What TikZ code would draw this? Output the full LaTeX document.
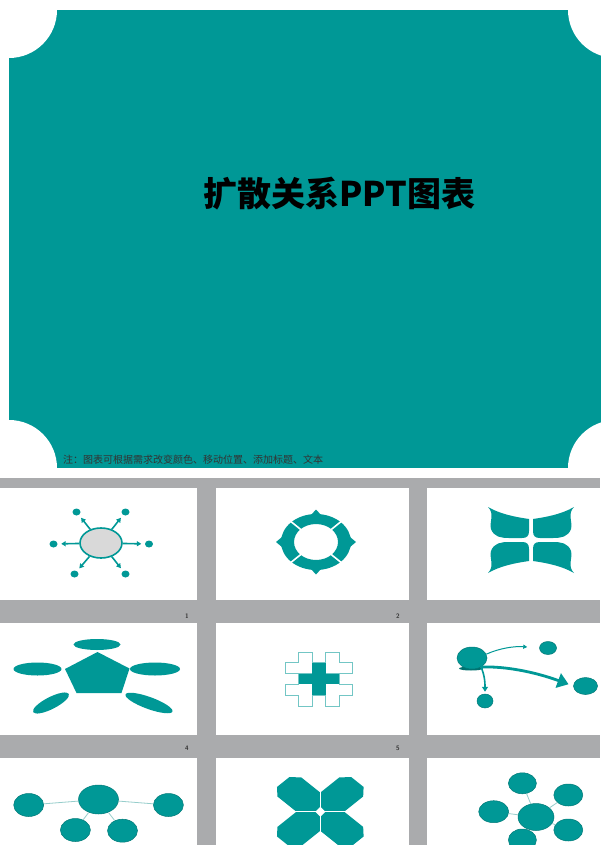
\documentclass[tikz,border=0pt]{standalone}
\usepackage{fontspec}
\newfontfamily\cjk{Noto Sans CJK SC}
\usetikzlibrary{arrows.meta,shapes.geometric}

\definecolor{cover}{RGB}{0,152,150}
\definecolor{band}{RGB}{170,171,173}
\definecolor{hubgrey}{RGB}{217,217,217}
\definecolor{twig}{RGB}{150,205,203}

\tikzset{
  dot/.style={ellipse,fill=cover,inner sep=0pt,minimum width=8pt,minimum height=7pt},
  spoke/.style={draw=cover,line width=1.6pt,-{Triangle[length=4.5pt,width=5pt]},shorten >=3.5pt},
  ball/.style={ellipse,fill=cover,draw=cover!80!black,line width=0.5pt,inner sep=0pt},
  twigline/.style={draw=twig,line width=0.8pt},
  crossline/.style={draw=cover!55,line width=0.8pt,fill=white},
  numlabel/.style={font=\sffamily\bfseries\fontsize{6.5}{7}\selectfont,text=black!80}
}

\begin{document}
\begin{tikzpicture}[x=1pt,y=-1pt]
\useasboundingbox (0,0) rectangle (600,845);
\fill[white] (0,0) rectangle (600,845);

% The teal cover with its four cut corners
\fill[cover] (9,10) rectangle (616,468);
\foreach \cx/\cy in {9/10,616/10,9/468,616/468}
  \fill[white] (\cx,\cy) circle (48);

% Title and note
\node[font=\cjk\bfseries\fontsize{34}{40}\selectfont] (title) at (339,194) {扩散关系PPT图表};
\node[font=\cjk\fontsize{10}{11}\selectfont,text=black!80,anchor=west,inner sep=0pt] (note) at (63,460)
  {注：图表可根据需求改变颜色、移动位置、添加标题、文本};

% The grey band and the white panels
\fill[band] (0,478) rectangle (600,845);
\foreach \ya/\yb in {488/600,623/735,758/845}
  \foreach \xa/\xb in {0/197,216/409,427/600}
    \fill[white] (\xa,\ya) rectangle (\xb,\yb);
\node[numlabel] (n1) at (187,616) {1};
\node[numlabel] (n2) at (398,616) {2};
\node[numlabel] (n4) at (187,748) {4};
\node[numlabel] (n5) at (398,748) {5};

% Panel 1: hub with six arrows
\node[ellipse,draw=cover,line width=1.6pt,fill=hubgrey,minimum width=42pt,minimum height=30pt,inner sep=0pt] (h) at (101,543) {};
\foreach \name/\pos in {d1/{53.5,544},d2/{149,544},d3/{76.5,512},d4/{125.5,512},d5/{74.5,574},d6/{125.5,574}}
{
  \node[dot] (\name) at (\pos) {};
  \draw[spoke] (h) -- (\name);
}

% Panel 2: ring with four spikes
\fill[cover,even odd rule] (316,542) ellipse [x radius=35,y radius=28]
  (316,542) ellipse [x radius=22,y radius=18];
\fill[cover] (311,515) -- (316,509.5) -- (321,515) -- cycle;
\fill[cover] (311,569) -- (316,574.5) -- (321,569) -- cycle;
\fill[cover] (282,537) -- (276,542) -- (282,547) -- cycle;
\fill[cover] (350,537) -- (356,542) -- (350,547) -- cycle;
\foreach \sx/\sy in {1/1,1/-1,-1/1,-1/-1}
  \draw[white,line width=1.6pt] (316+\sx*14,542+\sy*11.5) -- (316+\sx*27,542+\sy*22);

% Panel 3: four leaves
\foreach \sx/\sy in {1/1,-1/1,1/-1,-1/-1}
  \fill[cover,shift={(531,540)},xscale=\sx,yscale=\sy]
    (2,-9) -- (2,-21) .. controls (16,-23) and (31,-26) .. (43,-33)
    .. controls (36,-26) and (42,-18) .. (40,-11)
    .. controls (37,-3) and (30,-2) .. (22,-2) -- (9,-2)
    .. controls (4,-2) and (2,-4) .. cycle;

% Panel 4: pentagon and petals
\fill[cover] (97.5,652) -- (129.5,668.5) -- (121.5,693) -- (76.5,693) -- (65,669) -- cycle;
\fill[cover] (97,644.5) ellipse [x radius=23.5,y radius=5.5];
\fill[cover] (37.5,669) ellipse [x radius=24,y radius=6.5];
\fill[cover] (155,669) ellipse [x radius=25,y radius=6.5];
\fill[cover,rotate around={27:(51,703)}] (51,703) ellipse [x radius=20,y radius=6];
\fill[cover,rotate around={-20:(149,703)}] (149,703) ellipse [x radius=25,y radius=6];

% Panel 5: outlined crosses round a solid plus
\foreach \cx/\cy in {305.25/668.2,332.25/668.2,305.25/689.8,332.25/689.8}
  \draw[crossline] (\cx-6.75,\cy-16.2) -- ++(13.5,0) -- ++(0,10.8) -- ++(13.5,0) -- ++(0,10.8)
    -- ++(-13.5,0) -- ++(0,10.8) -- ++(-13.5,0) -- ++(0,-10.8) -- ++(-13.5,0) -- ++(0,-10.8)
    -- ++(13.5,0) -- cycle;
\fill[cover] (312,662.8) rectangle (325.5,695.2);
\fill[cover] (298.5,673.6) rectangle (339,684.4);

% Panel 6: one source, three arrows
\fill[cover!75!black] (471,668.5) ellipse [x radius=12,y radius=2];
\node[ball,minimum width=30pt,minimum height=22pt] (s) at (472,658) {};
\node[ball,minimum width=17pt,minimum height=13pt] (s1) at (548,648) {};
\node[ball,minimum width=16pt,minimum height=14pt] (s2) at (485,701) {};
\node[ball,minimum width=24pt,minimum height=17pt] (s3) at (585.5,686) {};
\draw[cover,line width=1pt,-{Triangle[length=4pt,width=4pt]},shorten >=12pt]
  (s.15) .. controls (500,648) and (515,646) .. (s1.west);
\draw[cover,line width=2.8pt,-{Triangle[length=11pt,width=15pt]},shorten >=5pt]
  (s.-45) .. controls (505,666) and (535,672) .. (s3.west);
\draw[cover,line width=1.6pt,-{Triangle[length=5pt,width=6pt]},shorten >=2pt]
  (s.-45) .. controls (485,676) and (485,684) .. (s2.north);

% Panel 7: tree of five balls
\node[ball,minimum width=40pt,minimum height=29pt] (t) at (98.5,799.5) {};
\node[ball,minimum width=30pt,minimum height=23pt] (t1) at (28.7,805) {};
\node[ball,minimum width=30pt,minimum height=23pt] (t2) at (168.4,805) {};
\node[ball,minimum width=30pt,minimum height=23pt] (t3) at (75.4,830) {};
\node[ball,minimum width=30pt,minimum height=23pt] (t4) at (122.5,830.7) {};
\foreach \leaf in {t1,t2,t3,t4}
  \draw[twigline] (t) -- (\leaf);

% Panel 8: four chamfered arms
\begin{scope}[shift={(320.3,811.7)},xscale=1.25]
  \foreach \ang in {45,135}
    \fill[cover,rotate=\ang] (-42,7) -- (-35,13.5) -- (35,13.5) -- (42,7) -- (42,-7) -- (35,-13.5)
      -- (-35,-13.5) -- (-42,-7) -- cycle;
  \draw[white,line width=0.9pt] (-40,0) -- (40,0) (0,-40) -- (0,40);
  \fill[white] (-4,0) -- (0,-5) -- (4,0) -- (0,5) -- cycle;
\end{scope}

% Panel 9: core with five satellites
\node[ball,minimum width=36pt,minimum height=27pt] (c) at (536,817) {};
\node[ball,minimum width=28pt,minimum height=21pt] (c1) at (522.4,783.3) {};
\node[ball,minimum width=29pt,minimum height=22pt] (c2) at (568.3,795) {};
\node[ball,minimum width=30pt,minimum height=22pt] (c3) at (493.7,811.7) {};
\node[ball,minimum width=29pt,minimum height=22pt] (c4) at (568.3,830) {};
\node[ball,minimum width=28pt,minimum height=22pt] (c5) at (522.4,840) {};
\foreach \sat in {c1,c2,c3,c4,c5}
  \draw[twigline] (c) -- (\sat);

\end{tikzpicture}
\end{document}
